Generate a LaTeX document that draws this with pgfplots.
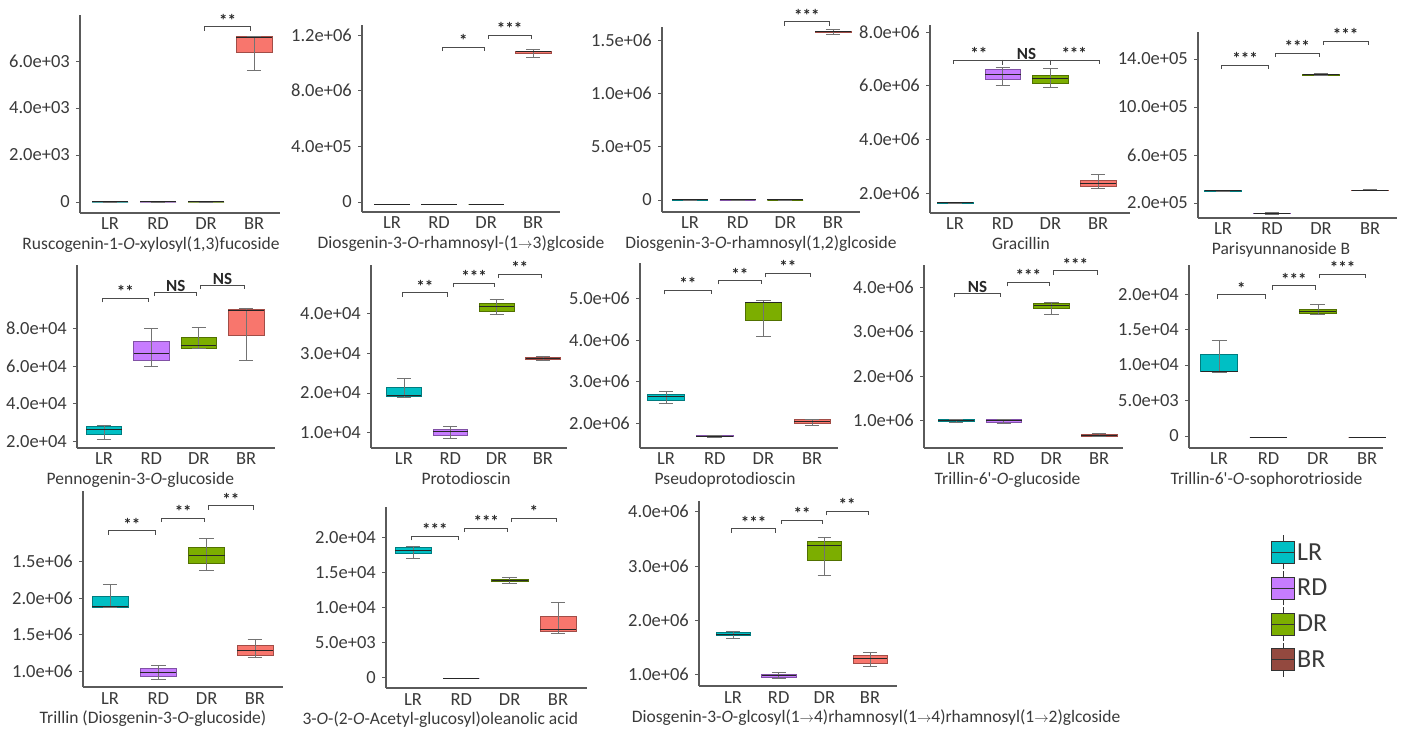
\documentclass[border=0pt]{standalone}
\usepackage{fontspec}
\setmainfont{Carlito}
\usepackage{pgfplots}
\pgfplotsset{compat=1.18}
\definecolor{LRc}{HTML}{00BFC4}
\definecolor{RDc}{HTML}{C77CFF}
\definecolor{DRc}{HTML}{7CAE00}
\definecolor{BRc}{HTML}{F8766D}
\definecolor{BRleg}{HTML}{93493F}
\definecolor{axgray}{HTML}{5A5A5A}
\definecolor{txt}{HTML}{3A3A3A}
\newcommand\fs{\fontsize{18.5}{21}\selectfont}
\newcommand\ttl{\fontsize{17.5}{20}\selectfont}
\newcommand\sigf{\fontsize{17}{18}\selectfont\bfseries}
\newcommand\arr{{\fontsize{14}{14}\selectfont$\rightarrow$}}
\newcommand\Oi{\textit{O}}
% box: #1 position, #2 colour, #3 lower whisker, #4 lower quartile, #5 median, #6 upper quartile, #7 upper whisker
\newcommand\bx[7]{%
  \pgfmathsetmacro\xa{#1-0.375}\pgfmathsetmacro\xb{#1+0.375}%
  \pgfmathsetmacro\ca{#1-0.15}\pgfmathsetmacro\cb{#1+0.15}%
  \edef\tmp{\noexpand\addplot[forget plot, fill=#2, draw=#2!65!black, line width=0.6pt]
    coordinates {(\xa,#4) (\xb,#4) (\xb,#6) (\xa,#6)} --cycle;
    \noexpand\addplot[forget plot, whisk] coordinates {(#1,#3) (#1,#7)};
    \noexpand\addplot[forget plot, whisk] coordinates {(\ca,#3) (\cb,#3)};
    \noexpand\addplot[forget plot, whisk] coordinates {(\ca,#7) (\cb,#7)};
    \noexpand\addplot[forget plot, med] coordinates {(\xa,#5) (\xb,#5)};}%
  \tmp}
\newcommand\sig[4]{\draw[sigline] (axis cs:#1,#3) ++(0pt,-4pt) -- ++(0pt,4pt) -- node[siglab]{#4} (axis cs:#2,#3) -- ++(0pt,-4pt);}
\tikzset{sigline/.style={draw=black!70, line width=0.8pt},
  siglab/.style={above, inner sep=0pt, yshift=0pt, font=\sigf, text=black!85}}
\pgfplotsset{
  whisk/.style={draw=black!55, line width=0.6pt, mark=none},
  med/.style={draw=black!85, line width=1pt, mark=none},
  panel/.style={
    scale only axis, clip=false, enlargelimits=false,
    axis x line*=bottom, axis y line*=left,
    axis line style={draw=axgray, line width=1.2pt, -},
    xtick={1,2,3,4}, xticklabels={LR,RD,DR,BR},
    major x tick style={draw=none},
    tick align=outside, major tick length=4pt,
    major y tick style={draw=axgray, line width=0.8pt},
    tick label style={font=\fs, text=txt},
    xticklabel style={anchor=base, yshift=-13pt, inner sep=0pt},
    yticklabel style={anchor=east, xshift=-2pt, inner sep=4pt},
    every axis x label/.style={at={(axis description cs:0.5,0)}, anchor=base, yshift=-36.5pt, inner sep=0pt, font=\ttl, text=txt},
    scaled y ticks=false,
    /pgf/number format/assume math mode=true,
  },
  ttlat/.style={xlabel style={at={(axis description cs:#1,0)}}},
}
\begin{document}
\begin{tikzpicture}
\useasboundingbox (0pt,0pt) rectangle (1406pt,731pt);
% ---------------- Row 1 ----------------
\begin{axis}[panel, at={(80pt,518pt)}, anchor=south west, width=200pt, height=198pt,
  xmin=0.375, xmax=4.54, ymin=-468, ymax=7957,
  ytick={0,2000,4000,6000}, yticklabels={0,2.0e+03,4.0e+03,6.0e+03},
  xlabel={Ruscogenin-1-\Oi-xylosyl(1,3)fucoside}, ttlat=0.355]
\bx{1}{LRc}{0}{0}{0}{0}{0}
\bx{2}{RDc}{0}{0}{0}{0}{0}
\bx{3}{DRc}{0}{0}{0}{0}{0}
\bx{4}{BRc}{5600}{6350}{6980}{7050}{7060}
\sig{2.97}{3.93}{7460}{**}
\end{axis}
\begin{axis}[panel, at={(362pt,519pt)}, anchor=south west, width=198pt, height=187pt,
  xmin=0.36, xmax=4.57, ymin=-71800, ymax=1271600,
  ytick={0,400000,800000,1200000}, yticklabels={0,4.0e+05,8.0e+06,1.2e+06},
  xlabel={Diosgenin-3-\Oi-rhamnosyl-(1\arr3)glcoside}, ttlat=0.5]
\bx{1}{LRc}{-15000}{-15000}{-15000}{-15000}{-15000}
\bx{2}{RDc}{-15000}{-15000}{-15000}{-15000}{-15000}
\bx{3}{DRc}{-15000}{-15000}{-15000}{-15000}{-15000}
\bx{4}{BRc}{1040000}{1068000}{1078000}{1086000}{1095000}
\sig{2.07}{2.96}{1113000}{*}
\sig{3.04}{3.96}{1200000}{***}
\end{axis}
\begin{axis}[panel, at={(662pt,519pt)}, anchor=south west, width=198pt, height=185pt,
  xmin=0.413, xmax=4.566, ymin=-112500, ymax=1621000,
  ytick={0,500000,1000000,1500000}, yticklabels={0,5.0e+05,1.0e+06,1.5e+06},
  xlabel={Diosgenin-3-\Oi-rhamnosyl(1,2)glcoside}, ttlat=0.5]
\bx{1}{LRc}{0}{0}{0}{0}{0}
\bx{2}{RDc}{0}{0}{0}{0}{0}
\bx{3}{DRc}{0}{0}{0}{0}{0}
\bx{4}{BRc}{1555000}{1570000}{1578000}{1585000}{1600000}
\sig{2.97}{3.93}{1672000}{***}
\end{axis}
\begin{axis}[panel, at={(930pt,518pt)}, anchor=south west, width=200pt, height=188pt,
  xmin=0.476, xmax=4.67, ymin=1254600, ymax=8261000,
  ytick={2000000,4000000,6000000,8000000}, yticklabels={2.0e+06,4.0e+06,6.0e+06,8.0e+06},
  xlabel={Gracillin}, ttlat=0.455]
\bx{1}{LRc}{1600000}{1620000}{1630000}{1645000}{1660000}
\bx{2}{RDc}{6000000}{6250000}{6400000}{6600000}{6700000}
\bx{3}{DRc}{5950000}{6100000}{6250000}{6400000}{6650000}
\bx{4}{BRc}{2190000}{2260000}{2350000}{2480000}{2700000}
\draw[sigline] (axis cs:0.97,6960000) ++(0pt,-4pt) -- ++(0pt,4pt) -- (axis cs:4.03,6960000) -- ++(0pt,-4pt);
\draw[sigline, line width=1.6pt] (axis cs:2,6960000) -- ++(0pt,-5pt);
\draw[sigline, line width=1.6pt] (axis cs:3,6960000) -- ++(0pt,-5pt);
\node[siglab] at (axis cs:1.5,6960000) {**};
\node[siglab] at (axis cs:2.5,6960000) {NS};
\node[siglab] at (axis cs:3.5,6960000) {***};
\end{axis}
\begin{axis}[panel, at={(1198pt,513pt)}, anchor=south west, width=199pt, height=186pt,
  xmin=0.49, xmax=4.55, ymin=75000, ymax=1625000,
  ytick={200000,600000,1000000,1400000}, yticklabels={2.0e+05,6.0e+05,10.0e+05,14.0e+05},
  xlabel={Parisyunnanoside B}, ttlat=0.417]
\bx{1}{LRc}{295000}{298000}{300000}{303000}{305000}
\bx{2}{RDc}{105000}{110000}{113000}{117000}{122000}
\bx{3}{DRc}{1260000}{1267000}{1270000}{1273000}{1278000}
\bx{4}{BRc}{303000}{305000}{307000}{309000}{311000}
\sig{0.97}{1.93}{1350000}{***}
\sig{2.07}{2.96}{1450000}{***}
\sig{3.04}{3.96}{1550000}{***}
\end{axis}
% ---------------- Row 2 ----------------
\begin{axis}[panel, at={(77pt,283pt)}, anchor=south west, width=198pt, height=183pt,
  xmin=0.43, xmax=4.61, ymin=16500, ymax=113700,
  ytick={20000,40000,60000,80000}, yticklabels={2.0e+04,4.0e+04,6.0e+04,8.0e+04},
  xlabel={Pennogenin-3-\Oi-glucoside}, ttlat=0.32]
\bx{1}{LRc}{20900}{24000}{26500}{27900}{28800}
\bx{2}{RDc}{60000}{63300}{66800}{73000}{80000}
\bx{3}{DRc}{69600}{69600}{70900}{75300}{80500}
\bx{4}{BRc}{63300}{76100}{89600}{90200}{90700}
\sig{0.97}{1.93}{96000}{**}
\sig{2.07}{2.96}{99300}{NS}
\sig{3.04}{3.96}{103000}{NS}
\end{axis}
\begin{axis}[panel, at={(371pt,283pt)}, anchor=south west, width=196pt, height=183pt,
  xmin=0.29, xmax=4.52, ymin=6140, ymax=52200,
  ytick={10000,20000,30000,40000}, yticklabels={1.0e+04,2.0e+04,3.0e+04,4.0e+04},
  xlabel={Protodioscin}, ttlat=0.485]
\bx{1}{LRc}{19000}{19100}{19300}{21500}{23600}
\bx{2}{RDc}{8600}{9400}{10200}{10800}{11500}
\bx{3}{DRc}{39700}{40600}{41700}{42500}{43500}
\bx{4}{BRc}{28300}{28500}{28700}{28900}{29200}
\sig{0.97}{1.93}{45200}{**}
\sig{2.07}{2.96}{47600}{***}
\sig{3.04}{3.96}{49900}{**}
\end{axis}
\begin{axis}[panel, at={(640pt,283pt)}, anchor=south west, width=198pt, height=185pt,
  xmin=0.466, xmax=4.53, ymin=1400000, ymax=5860000,
  ytick={2000000,3000000,4000000,5000000}, yticklabels={2.0e+06,3.0e+06,4.0e+06,5.0e+06},
  xlabel={Pseudoprotodioscin}, ttlat=0.43]
\bx{1}{LRc}{2480000}{2540000}{2630000}{2700000}{2760000}
\bx{2}{RDc}{1660000}{1670000}{1680000}{1700000}{1710000}
\bx{3}{DRc}{4090000}{4480000}{4900000}{4910000}{4970000}
\bx{4}{BRc}{1940000}{2000000}{2040000}{2080000}{2100000}
\sig{0.97}{1.93}{5200000}{**}
\sig{2.07}{2.96}{5440000}{**}
\sig{3.04}{3.96}{5610000}{**}
\end{axis}
\begin{axis}[panel, at={(924pt,283pt)}, anchor=south west, width=199pt, height=183pt,
  xmin=0.33, xmax=4.5, ymin=386000, ymax=4500000,
  ytick={1000000,2000000,3000000,4000000}, yticklabels={1.0e+06,2.0e+06,3.0e+06,4.0e+06},
  xlabel={Trillin-6\textquotesingle-\Oi-glucoside}, ttlat=0.42]
\bx{1}{LRc}{960000}{980000}{1000000}{1030000}{1040000}
\bx{2}{RDc}{950000}{970000}{995000}{1020000}{1040000}
\bx{3}{DRc}{3400000}{3520000}{3580000}{3640000}{3670000}
\bx{4}{BRc}{640000}{650000}{670000}{690000}{710000}
\sig{0.97}{1.93}{3860000}{NS}
\sig{2.07}{2.96}{4110000}{***}
\sig{3.04}{3.96}{4370000}{***}
\end{axis}
\begin{axis}[panel, at={(1189pt,283pt)}, anchor=south west, width=194pt, height=183pt,
  xmin=0.39, xmax=4.32, ymin=-1700, ymax=24100,
  ytick={0,5000,10000,15000,20000}, yticklabels={0,5.0e+03,1.0e+04,1.5e+04,2.0e+04},
  xlabel={Trillin-6\textquotesingle-\Oi-sophorotrioside}, ttlat=0.4]
\bx{1}{LRc}{8950}{9080}{9100}{11470}{13500}
\bx{2}{RDc}{-230}{-230}{-230}{-230}{-230}
\bx{3}{DRc}{17200}{17300}{17600}{17900}{18600}
\bx{4}{BRc}{-230}{-230}{-230}{-230}{-230}
\sig{0.97}{1.93}{19900}{*}
\sig{2.07}{2.96}{21200}{***}
\sig{3.04}{3.96}{22800}{***}
\end{axis}
% ---------------- Row 3 ----------------
\begin{axis}[panel, at={(83pt,44pt)}, anchor=south west, width=200pt, height=196pt,
  xmin=0.44, xmax=4.58, ymin=786000, ymax=3460000,
  ytick={1000000,1500000,2000000,2500000}, yticklabels={1.0e+06,1.5e+06,2.0e+06,1.5e+06},
  xlabel={Trillin (Diosgenin-3-\Oi-glucoside)}, ttlat=0.35]
\bx{1}{LRc}{1870000}{1870000}{1890000}{2030000}{2190000}
\bx{2}{RDc}{890000}{930000}{980000}{1040000}{1080000}
\bx{3}{DRc}{2380000}{2470000}{2580000}{2690000}{2810000}
\bx{4}{BRc}{1190000}{1220000}{1280000}{1350000}{1440000}
\sig{0.97}{1.93}{2920000}{**}
\sig{2.07}{2.96}{3090000}{**}
\sig{3.04}{3.96}{3260000}{**}
\end{axis}
\begin{axis}[panel, at={(386pt,43pt)}, anchor=south west, width=201pt, height=181pt,
  xmin=0.44, xmax=4.6, ymin=-1530, ymax=24400,
  ytick={0,5000,10000,15000,20000}, yticklabels={0,5.0e+03,1.0e+04,1.5e+04,2.0e+04},
  xlabel={3-\Oi-(2-\Oi-Acetyl-glucosyl)oleanolic acid}, ttlat=0.27]
\bx{1}{LRc}{17100}{17700}{18100}{18600}{18800}
\bx{2}{RDc}{-140}{-140}{-140}{-140}{-140}
\bx{3}{DRc}{13500}{13750}{13900}{14100}{14300}
\bx{4}{BRc}{6250}{6600}{6900}{8800}{10700}
\sig{0.97}{1.93}{20200}{***}
\sig{2.07}{2.96}{21400}{***}
\sig{3.04}{3.96}{22800}{*}
\end{axis}
\begin{axis}[panel, at={(699pt,45pt)}, anchor=south west, width=198pt, height=185pt,
  xmin=0.256, xmax=4.59, ymin=780000, ymax=4200000,
  ytick={1000000,2000000,3000000,4000000}, yticklabels={1.0e+06,2.0e+06,3.0e+06,4.0e+06},
  xlabel={Diosgenin-3-\Oi-glcosyl(1\arr4)rhamnosyl(1\arr4)rhamnosyl(1\arr2)glcoside},
  xlabel style={at={(axis description cs:-0.34,0)}, anchor=base west},
  legend style={at={(2.889,0.817)}, anchor=north west, draw=none, fill=none,
    font=\fontsize{26}{28}\selectfont, text=txt, inner sep=0pt, row sep=1pt},
  legend cell align=left]
\bx{1}{LRc}{1660000}{1710000}{1740000}{1780000}{1800000}
\bx{2}{RDc}{930000}{940000}{970000}{1000000}{1040000}
\bx{3}{DRc}{2830000}{3100000}{3370000}{3450000}{3530000}
\bx{4}{BRc}{1140000}{1200000}{1280000}{1340000}{1410000}
\sig{0.97}{1.93}{3690000}{***}
\sig{2.07}{2.96}{3850000}{**}
\sig{3.04}{3.96}{4010000}{**}
\addlegendimage{legend image code/.code={
  \draw[black!80, line width=0.8pt] (11.5pt,-17pt) -- (11.5pt,17pt);
  \draw[black!80, line width=1pt, fill=LRc] (0pt,-11pt) rectangle (23pt,11pt);
  \draw[black!80, line width=1pt] (0pt,0pt) -- (23pt,0pt);}}
\addlegendentry{LR}
\addlegendimage{legend image code/.code={
  \draw[black!80, line width=0.8pt] (11.5pt,-17pt) -- (11.5pt,17pt);
  \draw[black!80, line width=1pt, fill=RDc] (0pt,-11pt) rectangle (23pt,11pt);
  \draw[black!80, line width=1pt] (0pt,0pt) -- (23pt,0pt);}}
\addlegendentry{RD}
\addlegendimage{legend image code/.code={
  \draw[black!80, line width=0.8pt] (11.5pt,-17pt) -- (11.5pt,17pt);
  \draw[black!80, line width=1pt, fill=DRc] (0pt,-11pt) rectangle (23pt,11pt);
  \draw[black!80, line width=1pt] (0pt,0pt) -- (23pt,0pt);}}
\addlegendentry{DR}
\addlegendimage{legend image code/.code={
  \draw[black!80, line width=0.8pt] (11.5pt,-17pt) -- (11.5pt,17pt);
  \draw[black!80, line width=1pt, fill=BRleg] (0pt,-11pt) rectangle (23pt,11pt);
  \draw[black!80, line width=1pt] (0pt,0pt) -- (23pt,0pt);}}
\addlegendentry{BR}
\end{axis}
\end{tikzpicture}
\end{document}
